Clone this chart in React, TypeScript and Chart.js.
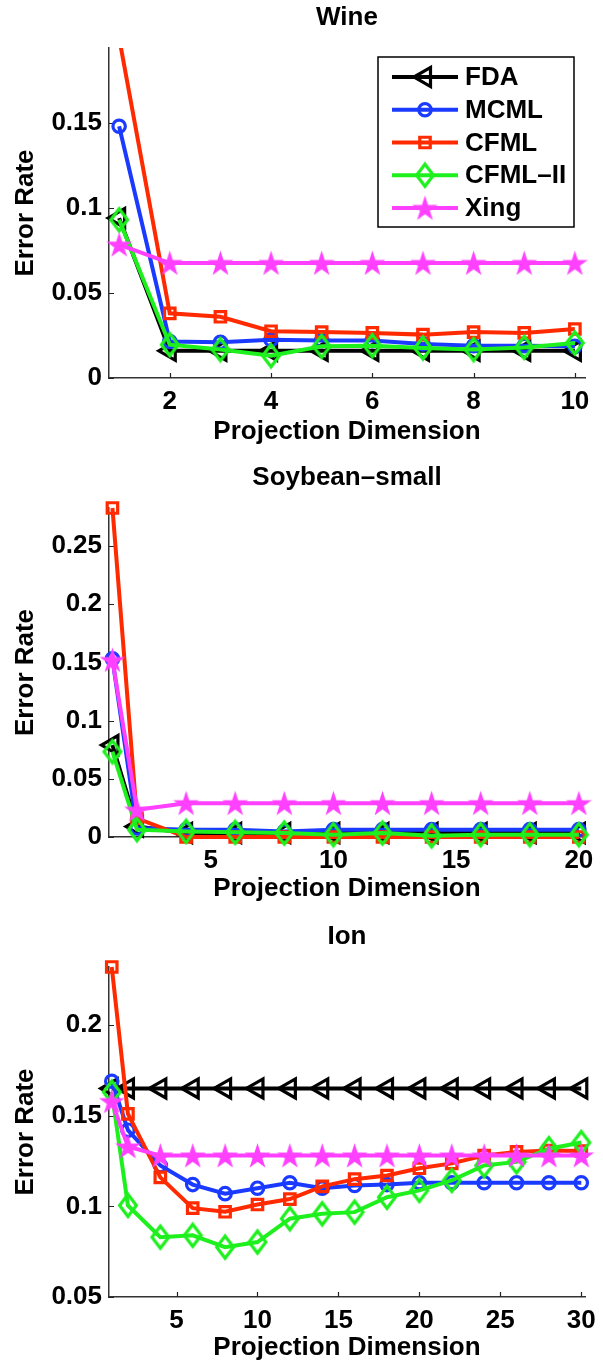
import React, { useEffect, useRef } from 'react';
import { Chart, registerables } from 'chart.js';
import { drawPoint } from 'chart.js/helpers';

Chart.register(...registerables);

// ---------- data ----------
const methodNames = ['FDA', 'MCML', 'CFML', 'CFML–II', 'Xing'];
const methodColors = ['#000000', '#1a3bff', '#ff2a00', '#1ef01e', '#ff40ff'];

const wineDims = [1, 2, 3, 4, 5, 6, 7, 8, 9, 10];
const wineFDA = [0.094, 0.016, 0.016, 0.016, 0.016, 0.016, 0.016, 0.016, 0.016, 0.016];
const wineMCML = [0.148, 0.0215, 0.021, 0.0225, 0.022, 0.022, 0.02, 0.019, 0.019, 0.0186];
const wineCFML = [0.2, 0.038, 0.036, 0.0275, 0.027, 0.0265, 0.0255, 0.027, 0.0265, 0.0288];
const wineCFML2 = [0.093, 0.0196, 0.0167, 0.0131, 0.0186, 0.019, 0.0176, 0.0167, 0.018, 0.0206];
const wineXing = [0.0784, 0.0676, 0.0676, 0.0676, 0.0676, 0.0676, 0.0676, 0.0676, 0.0676, 0.0676];
const wineXTicks = [2, 4, 6, 8, 10];
const wineYTicks = [0, 0.05, 0.1, 0.15];

const soyDims = [1, 2, 4, 6, 8, 10, 12, 14, 16, 18, 20];
const soyFDA = [0.079, 0.009, 0.0034, 0.0034, 0.0034, 0.0034, 0.0034, 0.0034, 0.0034, 0.0034, 0.0034];
const soyMCML = [0.153, 0.0077, 0.0063, 0.0063, 0.0048, 0.0063, 0.0063, 0.0063, 0.0063, 0.0063, 0.0063];
const soyCFML = [0.2826, 0.016, 0, 0, 0, 0, 0, 0, 0, 0, 0];
const soyCFML2 = [0.0733, 0.0063, 0.0048, 0.004, 0.0034, 0.002, 0.0034, 0.001, 0.002, 0.002, 0.002];
const soyXing = [0.152, 0.0234, 0.029, 0.029, 0.029, 0.029, 0.029, 0.029, 0.029, 0.029, 0.029];
const soyXTicks = [5, 10, 15, 20];
const soyYTicks = [0, 0.05, 0.1, 0.15, 0.2, 0.25];

const ionDims = [1, 2, 4, 6, 8, 10, 12, 14, 16, 18, 20, 22, 24, 26, 28, 30];
const ionFDA = [0.165, 0.165, 0.165, 0.165, 0.165, 0.165, 0.165, 0.165, 0.165, 0.165, 0.165, 0.165, 0.165, 0.165, 0.165, 0.165];
const ionMCML = [0.169, 0.142, 0.1225, 0.112, 0.107, 0.11, 0.113, 0.11, 0.1115, 0.112, 0.113, 0.113, 0.113, 0.113, 0.113, 0.113];
const ionCFML = [0.232, 0.151, 0.116, 0.099, 0.097, 0.101, 0.104, 0.111, 0.115, 0.117, 0.121, 0.1237, 0.128, 0.13, 0.1308, 0.1305];
const ionCFML2 = [0.163, 0.1005, 0.083, 0.084, 0.0775, 0.0803, 0.0932, 0.0959, 0.0968, 0.105, 0.1088, 0.1143, 0.1225, 0.1245, 0.1318, 0.1352];
const ionXing = [0.158, 0.133, 0.128, 0.128, 0.128, 0.128, 0.128, 0.128, 0.128, 0.128, 0.128, 0.128, 0.128, 0.128, 0.128, 0.128];
const ionXTicks = [5, 10, 15, 20, 25, 30];
const ionYTicks = [0.05, 0.1, 0.15, 0.2];

// ---------- styling ----------
const FAMILY = "'Liberation Sans', Arial, Helvetica, sans-serif";
const FSIZE = 26;
const FONT = { family: FAMILY, size: FSIZE, weight: 'bold' as const, lineHeight: 1.2 };
const HALF_LH = (FSIZE * 1.2) / 2;
const LINE_W = 4;
const MARK_W = 3.2;

function makeStar(color: string, R: number): HTMLCanvasElement {
  const s = Math.ceil(R * 2 + 4);
  const c = document.createElement('canvas');
  c.width = s;
  c.height = s;
  const ctx = c.getContext('2d')!;
  const cx = s / 2;
  const cy = s / 2 + R * 0.08;
  ctx.beginPath();
  for (let i = 0; i < 10; i++) {
    const r = i % 2 === 0 ? R : R * 0.382;
    const a = -Math.PI / 2 + (i * Math.PI) / 5;
    ctx.lineTo(cx + r * Math.cos(a), cy + r * Math.sin(a));
  }
  ctx.closePath();
  ctx.fillStyle = color;
  ctx.fill();
  return c;
}

function makeDiamond(color: string, hw: number, hh: number, lw: number): HTMLCanvasElement {
  const w = Math.ceil(2 * hw + lw + 2);
  const h = Math.ceil(2 * hh + lw + 2);
  const c = document.createElement('canvas');
  c.width = w;
  c.height = h;
  const ctx = c.getContext('2d')!;
  const cx = w / 2;
  const cy = h / 2;
  ctx.beginPath();
  ctx.moveTo(cx, cy - hh);
  ctx.lineTo(cx + hw, cy);
  ctx.lineTo(cx, cy + hh);
  ctx.lineTo(cx - hw, cy);
  ctx.closePath();
  ctx.strokeStyle = color;
  ctx.lineWidth = lw;
  ctx.lineJoin = 'miter';
  ctx.stroke();
  return c;
}

const starImg = makeStar(methodColors[4], 13.5);
const diamondImg = makeDiamond(methodColors[3], 8.4, 11, MARK_W);
const markerStyles: any[] = ['triangle', 'circle', 'rect', diamondImg, starImg];
const markerRadii = [11, 6.2, 7.4, 10, 13];
const markerRotations = [270, 0, 0, 0, 0];

// ---------- plugins ----------
const inwardTicks = {
  id: 'inwardTicks',
  beforeDatasetsDraw(chart: any) {
    const { ctx, chartArea, scales } = chart;
    const len = 5;
    ctx.save();
    ctx.strokeStyle = '#222';
    ctx.lineWidth = 1.2;
    ctx.beginPath();
    scales.x.ticks.forEach((t: any) => {
      const px = Math.round(scales.x.getPixelForValue(t.value)) + 0.5;
      ctx.moveTo(px, chartArea.bottom);
      ctx.lineTo(px, chartArea.bottom - len);
    });
    scales.y.ticks.forEach((t: any) => {
      const py = Math.round(scales.y.getPixelForValue(t.value)) + 0.5;
      ctx.moveTo(chartArea.left, py);
      ctx.lineTo(chartArea.left + len, py);
    });
    ctx.stroke();
    ctx.restore();
  },
};

const boxLegend = {
  id: 'boxLegend',
  afterDraw(chart: any, _args: any, opts: any) {
    if (!opts || !opts.show) return;
    const { ctx, chartArea } = chart;
    const w = 196;
    const h = 170;
    const x0 = chartArea.right - 11 - w;
    const y0 = chartArea.top + 9;
    ctx.save();
    ctx.fillStyle = '#ffffff';
    ctx.fillRect(x0, y0, w, h);
    ctx.strokeStyle = '#000';
    ctx.lineWidth = 1.5;
    ctx.strokeRect(x0, y0, w, h);
    chart.data.datasets.forEach((ds: any, i: number) => {
      const y = y0 + 20 + i * 32.75;
      ctx.strokeStyle = ds.borderColor;
      ctx.lineWidth = ds.borderWidth;
      ctx.beginPath();
      ctx.moveTo(x0 + 14, y);
      ctx.lineTo(x0 + 80, y);
      ctx.stroke();
      ctx.fillStyle = 'rgba(0,0,0,0)';
      ctx.strokeStyle = ds.pointBorderColor;
      ctx.lineWidth = ds.pointBorderWidth;
      drawPoint(
        ctx,
        {
          pointStyle: ds.pointStyle,
          rotation: ds.pointRotation || 0,
          radius: ds.pointRadius,
          borderWidth: ds.pointBorderWidth,
        } as any,
        x0 + 47,
        y
      );
      ctx.fillStyle = '#000';
      ctx.font = `bold ${FSIZE}px ${FAMILY}`;
      ctx.textAlign = 'left';
      ctx.textBaseline = 'middle';
      ctx.fillText(ds.label, x0 + 87, y + 1);
    });
    ctx.restore();
  },
};

// ---------- panel specs ----------
interface PanelSpec {
  title: string;
  dims: number[];
  series: number[][];
  xMin: number;
  xMax: number;
  yMin: number;
  yMax: number;
  xTicks: number[];
  yTicks: number[];
  top: number;
  height: number;
  areaTop: number;
  titleCenter: number;
  xAxisHeight: number;
  xTitleFromBottom: number;
  legend: boolean;
  clip: any;
}

const panels: PanelSpec[] = [
  {
    title: 'Wine',
    dims: wineDims,
    series: [wineFDA, wineMCML, wineCFML, wineCFML2, wineXing],
    xMin: 0.8,
    xMax: 10.2,
    yMin: 0,
    yMax: 0.194,
    xTicks: wineXTicks,
    yTicks: wineYTicks,
    top: 0,
    height: 455,
    areaTop: 48,
    titleCenter: 18,
    xAxisHeight: 77,
    xTitleFromBottom: 23,
    legend: true,
    clip: { left: false, top: 0, right: false, bottom: false },
  },
  {
    title: 'Soybean–small',
    dims: soyDims,
    series: [soyFDA, soyMCML, soyCFML, soyCFML2, soyXing],
    xMin: 0.86,
    xMax: 20.25,
    yMin: 0,
    yMax: 0.2826,
    xTicks: soyXTicks,
    yTicks: soyYTicks,
    top: 455,
    height: 450,
    areaTop: 53,
    titleCenter: 23,
    xAxisHeight: 68,
    xTitleFromBottom: 16,
    legend: false,
    clip: false,
  },
  {
    title: 'Ion',
    dims: ionDims,
    series: [ionFDA, ionMCML, ionCFML, ionCFML2, ionXing],
    xMin: 0.83,
    xMax: 30.23,
    yMin: 0.05,
    yMax: 0.232,
    xTicks: ionXTicks,
    yTicks: ionYTicks,
    top: 905,
    height: 459,
    areaTop: 62,
    titleCenter: 31.7,
    xAxisHeight: 67,
    xTitleFromBottom: 16.5,
    legend: false,
    clip: false,
  },
];

function buildConfig(p: PanelSpec): any {
  const datasets = p.series.map((vals, i) => ({
    label: methodNames[i],
    data: p.dims.map((d, j) => ({ x: d, y: vals[j] })),
    borderColor: methodColors[i],
    backgroundColor: 'rgba(0,0,0,0)',
    borderWidth: LINE_W,
    pointStyle: markerStyles[i],
    pointRotation: markerRotations[i],
    pointRadius: markerRadii[i],
    pointHoverRadius: markerRadii[i],
    pointBorderColor: methodColors[i],
    pointBackgroundColor: 'rgba(0,0,0,0)',
    pointBorderWidth: MARK_W,
    order: 5 - i,
    clip: p.clip,
    fill: false,
    tension: 0,
  }));

  const titlePadTop = p.titleCenter - HALF_LH;
  const titlePadBottom = p.areaTop - p.titleCenter - HALF_LH;

  return {
    type: 'line',
    data: { datasets },
    plugins: [inwardTicks, boxLegend],
    options: {
      responsive: false,
      animation: false,
      devicePixelRatio: 1,
      events: [],
      layout: { padding: { left: 0, right: 18, top: 0, bottom: 0 } },
      plugins: {
        legend: { display: false },
        tooltip: { enabled: false },
        title: {
          display: true,
          text: p.title,
          fullSize: false,
          color: '#000',
          font: FONT,
          padding: { top: titlePadTop, bottom: titlePadBottom },
        },
        boxLegend: { show: p.legend },
      },
      scales: {
        x: {
          type: 'linear',
          min: p.xMin,
          max: p.xMax,
          afterBuildTicks: (s: any) => {
            s.ticks = p.xTicks.map((v) => ({ value: v }));
          },
          afterFit: (s: any) => {
            s.height = p.xAxisHeight;
            s.paddingLeft = 0;
            s.paddingRight = 0;
          },
          grid: { display: false, drawTicks: false },
          border: { display: true, color: '#333', width: 1.5 },
          ticks: {
            font: FONT,
            color: '#000',
            padding: 24 - HALF_LH,
            maxRotation: 0,
            autoSkip: false,
            callback: (v: any) => String(v),
          },
          title: {
            display: true,
            text: 'Projection Dimension',
            color: '#000',
            font: FONT,
            padding: { top: 0, bottom: Math.max(0, p.xTitleFromBottom - HALF_LH) },
          },
        },
        y: {
          type: 'linear',
          min: p.yMin,
          max: p.yMax,
          afterBuildTicks: (s: any) => {
            s.ticks = p.yTicks.map((v) => ({ value: v }));
          },
          afterFit: (s: any) => {
            s.width = 109;
            s.paddingTop = 0;
            s.paddingBottom = 0;
          },
          grid: { display: false, drawTicks: false },
          border: { display: true, color: '#333', width: 1.5 },
          ticks: {
            font: FONT,
            color: '#000',
            padding: 7,
            autoSkip: false,
            callback: (v: any) => String(v),
          },
          title: {
            display: true,
            text: 'Error Rate',
            color: '#000',
            font: FONT,
            padding: { top: 26 - HALF_LH, bottom: 0 },
          },
        },
      },
    },
  };
}

function Panel({ spec }: { spec: PanelSpec }) {
  const ref = useRef<HTMLCanvasElement>(null);
  useEffect(() => {
    if (!ref.current) return;
    const chart = new Chart(ref.current, buildConfig(spec));
    return () => chart.destroy();
  }, [spec]);
  return (
    <canvas
      ref={ref}
      width={603}
      height={spec.height}
      style={{ position: 'absolute', left: 0, top: spec.top, width: 603, height: spec.height, display: 'block' }}
    />
  );
}

export default function App() {
  return (
    <div style={{ position: 'absolute', left: 0, top: 0, width: 603, height: 1364, background: '#fff' }}>
      {panels.map((p) => (
        <Panel key={p.title} spec={p} />
      ))}
    </div>
  );
}
